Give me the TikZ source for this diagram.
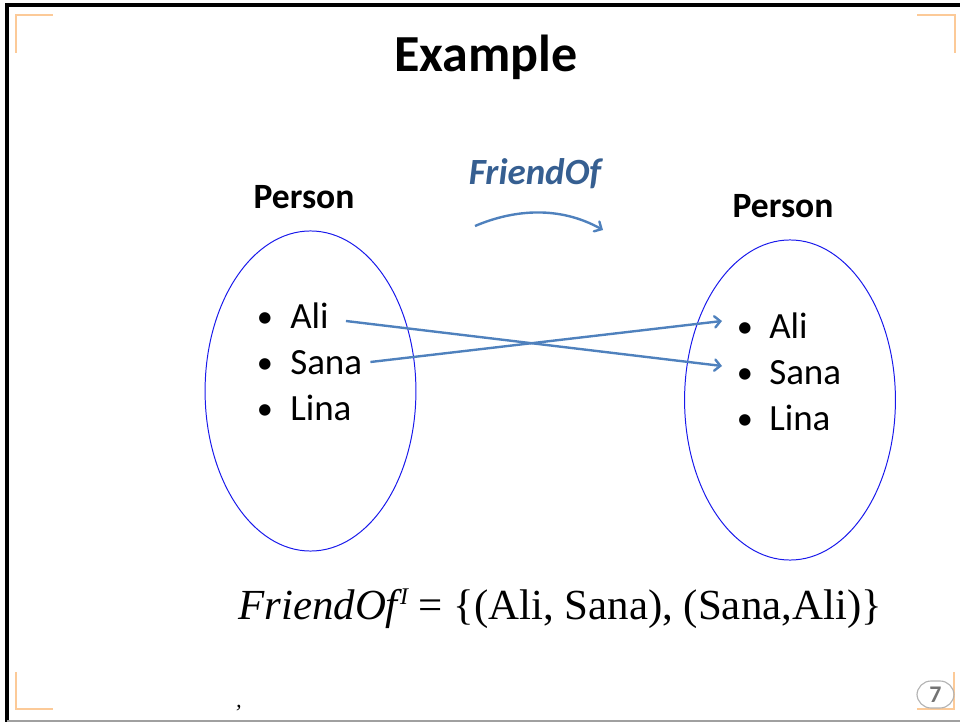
\documentclass[tikz,border=0pt]{standalone}
\usepackage{fontspec}
\setmainfont{Carlito}
\newfontfamily\timesfont{Liberation Serif}
\usetikzlibrary{shapes.geometric, arrows.meta, positioning, calc}
\definecolor{slideorange}{RGB}{252, 202, 152}
\definecolor{arrowblue}{RGB}{79, 129, 189}
\definecolor{labelblue}{RGB}{54, 95, 145}
\definecolor{setblue}{RGB}{25, 25, 235}
\definecolor{framegrey}{RGB}{160, 160, 160}

\begin{document}
\begin{tikzpicture}[x=0.025cm, y=-0.025cm,
    title/.style={font=\fontsize{37}{42}\selectfont\bfseries, anchor=base},
    setname/.style={font=\fontsize{25.3}{30}\selectfont\bfseries, anchor=base},
    member/.style={font=\fontsize{26.3}{30}\selectfont, anchor=base west, inner sep=0pt},
    dot/.style={font=\fontsize{23}{26}\selectfont, anchor=base, inner sep=0pt},
    set/.style={ellipse, draw=setblue, line width=0.7pt, minimum width=5.27cm, minimum height=8cm},
    arrow/.style={-{Straight Barb[length=4pt, width=8pt, line cap=round]}, line width=1.7pt, arrowblue},
    corner/.style={slideorange, line width=1.3pt}
]
\useasboundingbox (0,0) rectangle (960,722);

% slide frame and corner marks
\draw [line width=2.2pt] (7,722) -- (7,5) -- (960,5);
\draw [framegrey, line width=1pt] (7,721) -- (960,721);
\draw [corner] (16,53) -- (16,15) -- (53,15);
\draw [corner] (917,15) -- (955,15) -- (955,53);
\draw [corner] (16,672) -- (16,709) -- (53,709);
\draw [corner] (917,709) -- (954,709) -- (954,672);

\node (title) [title] at (486,72) {Example};

% the two sets
\node (lSet) [set] at (310.5,391) {};
\node (rSet) [set] at (790,400) {};
\node (lName) [setname] at (304,208) {Person};
\node (rName) [setname] at (783,217) {Person};

\node (lbAli)  [dot] at (265,327) {•};
\node (lbSana) [dot] at (265,373) {•};
\node (lbLina) [dot] at (265,419) {•};
\node (lAli)  [member] at (290,328) {Ali};
\node (lSana) [member] at (290,374) {Sana};
\node (lLina) [member] at (290,420) {Lina};

\node (rbAli)  [dot] at (745,337) {•};
\node (rbSana) [dot] at (745,383) {•};
\node (rbLina) [dot] at (745,429) {•};
\node (rAli)  [member] at (769,338) {Ali};
\node (rSana) [member] at (769,384) {Sana};
\node (rLina) [member] at (769,430) {Lina};

% relation name
\node (rel) [font=\fontsize{26.3}{30}\selectfont\bfseries\itshape, text=labelblue, anchor=base] at (535,185) {FriendOf};
\coordinate (relFrom) at (475,226);
\coordinate (relTo) at (603,230);
\draw [arrow] (relFrom) .. controls (515,209) and (560,206) .. (relTo);

\draw [arrow] ($(lAli.base east)+(17,-7)$) -- ($(rbSana.base)+(-23,-17)$);
\draw [arrow] ($(lSana.base east)+(8,-12)$) -- ($(rbAli.base)+(-23,-16)$);

% interpretation
\node (interp) [font=\timesfont\fontsize{30.5}{34}\selectfont, anchor=base west, inner sep=0pt] at (238,619)
  {\itshape FriendOf\kern1.5pt\raisebox{0.33em}{\fontsize{17}{20}\selectfont I}\upshape\ = \{(Ali, Sana), (Sana,Ali)\}};
\node (comma) [font=\timesfont\itshape\fontsize{16}{18}\selectfont, anchor=base] at (239,707) {,};

% page number
\node (page) [draw=framegrey!80, rounded corners=10pt, line width=0.8pt, minimum width=0.925cm, minimum height=0.675cm,
  text=black!55, font=\fontsize{17}{19}\selectfont\bfseries] at (935.5,694.5) {7};
\end{tikzpicture}
\end{document}
